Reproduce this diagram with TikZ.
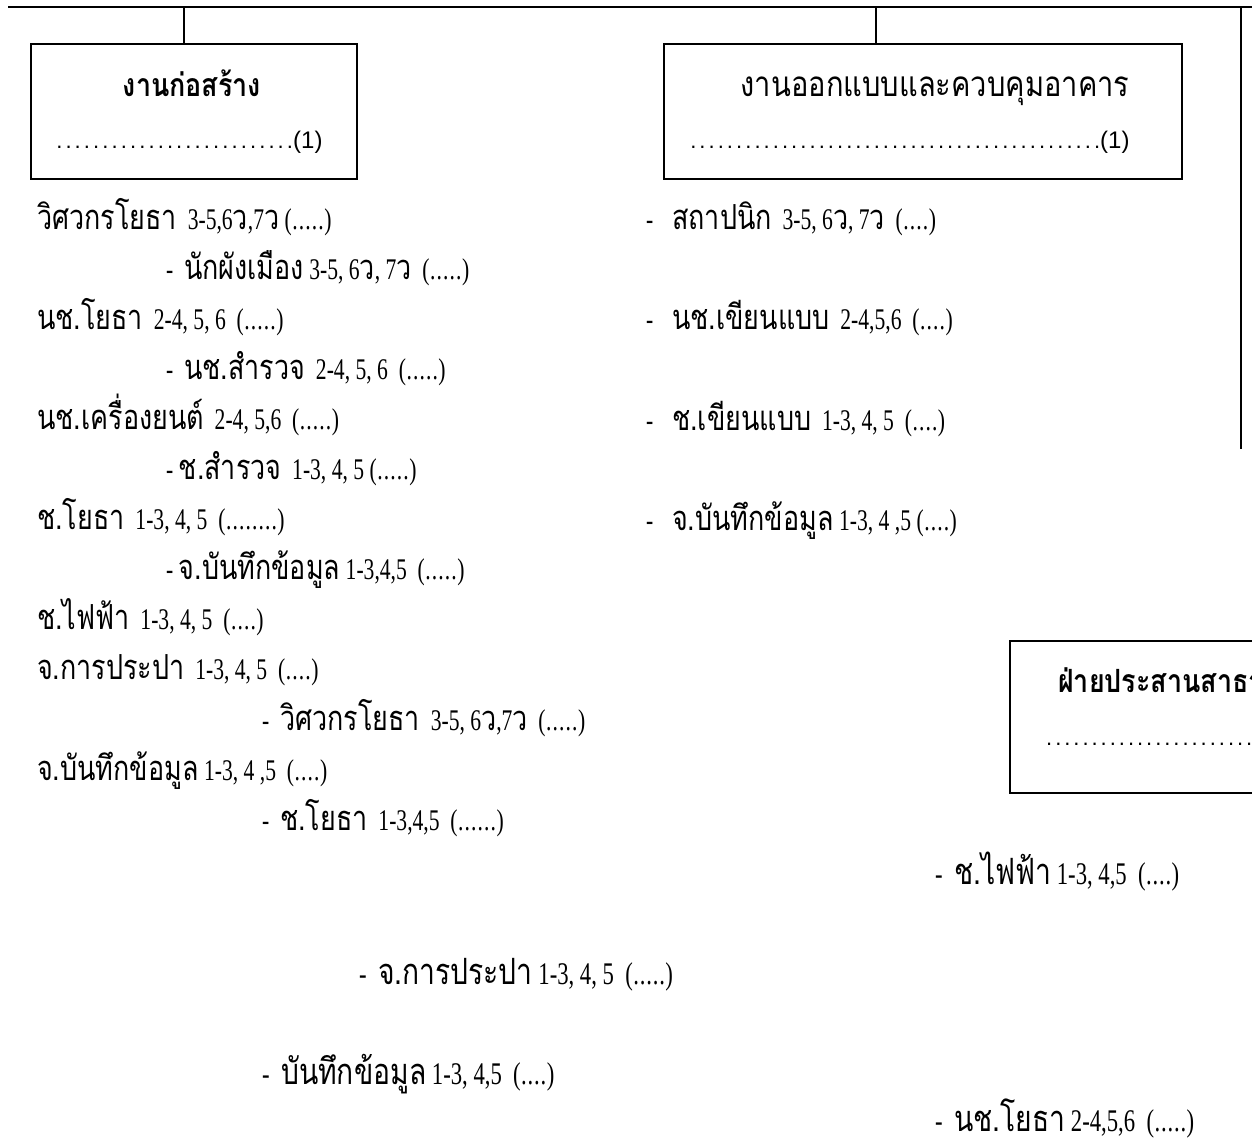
\documentclass[tikz,border=0pt]{standalone}
\usepackage{fontspec}
\setmainfont{Liberation Serif}
\newfontfamily\serifC[FakeStretch=0.72]{Liberation Serif}
\newfontfamily\thaiR[Script=Thai,Scale=1.15,FakeStretch=0.78]{Loma}
\newfontfamily\thaiHead[Script=Thai,FakeStretch=0.83]{Loma}
\newfontfamily\thaiHeadB[Script=Thai,FakeStretch=0.84]{Loma}
\newfontfamily\arialS{Liberation Sans}
\newcommand\thx[1]{{\thaiR #1}}
\newcommand\dt{\makebox[6.5pt]{.}}
\newcommand\dotrun[1]{\hbox to #1{\xleaders\hbox to 9pt{\hss.}\hfill}}
\newcommand\dsh{\makebox[26pt][l]{-}}
\begin{document}
\begin{tikzpicture}[x=1pt,y=-1pt,
  item/.style={anchor=base west,inner sep=0pt,font=\serifC\fontsize{30}{30}\selectfont},
  itemB/.style={item,font=\serifC\fontsize{31.5}{31.5}\selectfont},
  boxframe/.style={draw,line width=1.4pt,inner sep=0pt},
  conn/.style={line width=1.4pt},
  headB/.style={anchor=base,inner sep=0pt,font=\thaiHeadB\bfseries\fontsize{32}{32}\selectfont},
  headBL/.style={anchor=base west,inner sep=0pt,font=\thaiHeadB\bfseries\fontsize{32}{32}\selectfont},
  headR/.style={anchor=base,inner sep=0pt,font=\thaiHead\fontsize{35}{35}\selectfont},
  dotrow/.style={anchor=base west,inner sep=0pt,font=\arialS\fontsize{22}{22}\selectfont}]
\useasboundingbox (0,0) rectangle (1252,1145);
\clip (0,0) rectangle (1252,1145);

% top connector line
\coordinate (topL) at (8,7);
\coordinate (topR) at (1252,7);
\draw[conn] (topL) -- (topR);

% boxes
\node[boxframe,minimum width=326pt,minimum height=135pt] (box1) at (194,111.5) {};
\node[boxframe,minimum width=518pt,minimum height=135pt] (box2) at (923,111.5) {};
\node[boxframe,minimum width=390pt,minimum height=152pt] (box3) at (1205,717) {};

\coordinate (t1) at (184,7);
\coordinate (t2) at (876,7);
\draw[conn] (t1) -- (t1 |- box1.north);
\draw[conn] (t2) -- (t2 |- box2.north);
\coordinate (v1) at (1241,7);
\coordinate (v2) at (1241,449);
\draw[conn] (v1) -- (v2);

% box texts
\node[headB] (h1) at (192,97) {งานก่อสร้าง};
\node[dotrow] (d1) at (53,148) {\dotrun{240pt}{\fontsize{24}{24}\selectfont(1)}};
\node[headR] (h2) at (935,97) {งานออกแบบและควบคุมอาคาร};
\node[dotrow] (d2) at (687,148) {\dotrun{413pt}{\fontsize{24}{24}\selectfont(1)}};
\node[headBL] (h3) at (1058,692) {ฝ่ายประสานสาธา};
\node[dotrow] (d3) at (1043,745) {\dotrun{300pt}};

% left column
\node[item] (l1) at (37,229) {\thx{วิศวกรโยธา}\ \ 3-5,6\thx{ว},7\thx{ว} (\dt\dt\dt\dt\dt)};
\node[item] (l2) at (166,279) {-\ \ \thx{นักผังเมือง} 3-5, 6\thx{ว}, 7\thx{ว}\ \ (\dt\dt\dt\dt\dt)};
\node[item] (l3) at (37,329) {\thx{นช.โยธา}\ \ 2-4, 5, 6\ \ (\dt\dt\dt\dt\dt)};
\node[item] (l4) at (166,379) {-\ \ \thx{นช.สำรวจ}\ \ 2-4, 5, 6\ \ (\dt\dt\dt\dt\dt)};
\node[item] (l5) at (37,429) {\thx{นช.เครื่องยนต์}\ \ 2-4, 5,6\ \ (\dt\dt\dt\dt\dt)};
\node[item] (l6) at (166,479) {- \thx{ช.สำรวจ}\ \ 1-3, 4, 5 (\dt\dt\dt\dt\dt)};
\node[item] (l7) at (37,529) {\thx{ช.โยธา}\ \ 1-3, 4, 5\ \ (\dt\dt\dt\dt\dt\dt\dt\dt)};
\node[item] (l8) at (166,579) {- \thx{จ.บันทึกข้อมูล} 1-3,4,5\ \ (\dt\dt\dt\dt\dt)};
\node[item] (l9) at (37,629) {\thx{ช.ไฟฟ้า}\ \ 1-3, 4, 5\ \ (\dt\dt\dt\dt)};
\node[item] (l10) at (37,679) {\thx{จ.การประปา}\ \ 1-3, 4, 5\ \ (\dt\dt\dt\dt)};
\node[item] (l11) at (262,730) {-\ \ \thx{วิศวกรโยธา}\ \ 3-5, 6\thx{ว},7\thx{ว}\ \ (\dt\dt\dt\dt\dt)};
\node[item] (l12) at (37,780) {\thx{จ.บันทึกข้อมูล} 1-3, 4 ,5\ \ (\dt\dt\dt\dt)};
\node[item] (l13) at (262,830) {-\ \ \thx{ช.โยธา}\ \ 1-3,4,5\ \ (\dt\dt\dt\dt\dt\dt)};

% middle column
\node[item] (m1) at (646,229) {\dsh\thx{สถาปนิก}\ \ 3-5, 6\thx{ว}, 7\thx{ว}\ \ (\dt\dt\dt\dt)};
\node[item] (m2) at (646,329) {\dsh\thx{นช.เขียนแบบ}\ \ 2-4,5,6\ \ (\dt\dt\dt\dt)};
\node[item] (m3) at (646,430) {\dsh\thx{ช.เขียนแบบ}\ \ 1-3, 4, 5\ \ (\dt\dt\dt\dt)};
\node[item] (m4) at (646,530) {\dsh\thx{จ.บันทึกข้อมูล} 1-3, 4 ,5 (\dt\dt\dt\dt)};

% bottom items
\node[itemB] (b1) at (935,884) {-\ \ \thx{ช.ไฟฟ้า} 1-3, 4,5\ \ (\dt\dt\dt\dt)};
\node[itemB] (b2) at (359,984) {-\ \ \thx{จ.การประปา} 1-3, 4, 5\ \ (\dt\dt\dt\dt\dt)};
\node[itemB] (b3) at (262,1084) {-\ \ \thx{บันทึกข้อมูล} 1-3, 4,5\ \ (\dt\dt\dt\dt)};
\node[itemB] (b4) at (935,1131) {-\ \ \thx{นช.โยธา} 2-4,5,6\ \ (\dt\dt\dt\dt\dt)};
\end{tikzpicture}
\end{document}
